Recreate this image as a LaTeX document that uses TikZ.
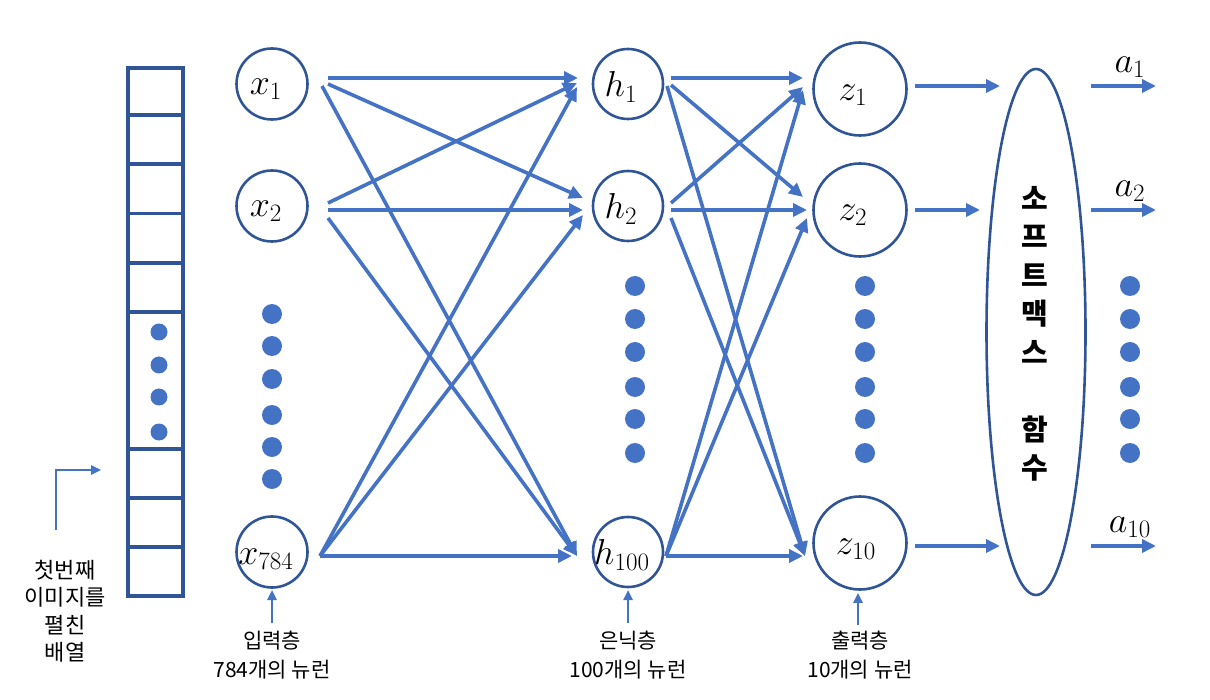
\documentclass[tikz,border=0pt]{standalone}
\usepackage{fontspec}
\newfontfamily\kr{Noto Sans CJK KR}
\usetikzlibrary{arrows.meta,calc,shapes.geometric}
\definecolor{edgeblue}{HTML}{2F5597}
\definecolor{arrblue}{HTML}{4472C4}
\newcommand{\mymath}[1]{\scalebox{1.45}{$#1$}}
\tikzset{
  neuron/.style={circle,draw=edgeblue,line width=2.6pt,inner sep=0pt},
  dotnode/.style={circle,fill=arrblue,inner sep=0pt,minimum size=20pt},
  smalldot/.style={circle,fill=arrblue,inner sep=0pt,minimum size=17pt},
  conn/.style={draw=arrblue,line width=3.6pt,-{Triangle[length=14pt,width=13pt]}},
  thinconn/.style={draw=arrblue,line width=2.4pt,-{Triangle[length=10pt,width=9pt]}},
  mathtxt/.style={inner sep=0pt,font=\fontsize{24}{28}\selectfont},
  krlabel/.style={align=center,inner sep=0pt,font=\kr\fontsize{21}{29.5}\selectfont},
  cellline/.style={draw=edgeblue,line width=3.2pt},
}
\begin{document}
\begin{tikzpicture}[x=1pt,y=-1pt]
\useasboundingbox (0,0) rectangle (1210,700);

% flattened array
\node[draw=edgeblue,line width=3.2pt,minimum width=55pt,minimum height=528pt,inner sep=0pt] (arr) at (155.5,332) {};
\foreach \yy in {115,164,213.5,263,312,449,498,547}{
  \draw[cellline] (arr.west |- 0,\yy) -- (arr.east |- 0,\yy);
}
\foreach \yy/\nm in {332/a1,365/a2,397/a3,432/a4}{
  \node[smalldot] (ad\nm) at (159,\yy) {};
}

% input layer
\node[neuron,minimum size=71pt] (x1) at (272,84) {};
\node[neuron,minimum size=71pt] (x2) at (272,206) {};
\node[neuron,minimum size=71pt] (x784) at (272,552) {};
\node[mathtxt] (tx1) at (266,89) {\mymath{x_1}};
\node[mathtxt] (tx2) at (266,211) {\mymath{x_2}};
\node[mathtxt] (tx784) at (266,559) {\mymath{x_{784}}};
\foreach \yy/\nm in {314/1,346/2,379/3,415/4,447/5,479/6}{
  \node[dotnode] (xd\nm) at (272,\yy) {};
}

% hidden layer
\node[neuron,minimum size=70pt] (h1) at (628,84) {};
\node[neuron,minimum size=70pt] (h2) at (628,206) {};
\node[neuron,minimum size=70pt] (h100) at (628,552) {};
\node[mathtxt] (th1) at (621,87) {\mymath{h_1}};
\node[mathtxt] (th2) at (621,209) {\mymath{h_2}};
\node[mathtxt] (th100) at (622,555) {\mymath{h_{100}}};
\foreach \yy/\nm in {286/1,319/2,352/3,387/4,419/5,453/6}{
  \node[dotnode] (hd\nm) at (635,\yy) {};
}

% output layer
\node[neuron,minimum size=93pt] (z1) at (860,89) {};
\node[neuron,minimum size=93pt] (z2) at (860,210) {};
\node[neuron,minimum size=93pt] (z10) at (860,543) {};
\node[mathtxt] (tz1) at (853,95) {\mymath{z_1}};
\node[mathtxt] (tz2) at (853,215) {\mymath{z_2}};
\node[mathtxt] (tz10) at (856,549) {\mymath{z_{10}}};
\foreach \yy/\nm in {286/1,319/2,352/3,387/4,419/5,453/6}{
  \node[dotnode] (zd\nm) at (865,\yy) {};
}

% softmax
\node[ellipse,draw=edgeblue,line width=2.6pt,minimum width=99pt,minimum height=526pt,inner sep=0pt] (sm) at (1036,332) {};
\node[align=center,inner sep=0pt,font=\kr\bfseries\fontsize{29}{38.5}\selectfont] (smtxt) at (1035,334) {소\\프\\트\\맥\\스\\[38.5pt]함\\수};

% softmax outputs
\coordinate (a1s) at (1091,86);  \coordinate (a1e) at (1156,86);
\coordinate (a2s) at (1091,210); \coordinate (a2e) at (1156,210);
\coordinate (a10s) at (1091,546); \coordinate (a10e) at (1156,546);
\draw[conn] (a1s) -- (a1e);
\draw[conn] (a2s) -- (a2e);
\draw[conn] (a10s) -- (a10e);
\node[mathtxt] (ta1) at (1130,67) {\mymath{a_1}};
\node[mathtxt] (ta2) at (1130,191) {\mymath{a_2}};
\node[mathtxt] (ta10) at (1130,527) {\mymath{a_{10}}};
\foreach \yy/\nm in {286/1,319/2,352/3,387/4,419/5,453/6}{
  \node[dotnode] (od\nm) at (1130,\yy) {};
}

% input -> hidden
\draw[conn] ($(x1)+(56,-6)$) -- ($(h1)+(-50,-6)$);
\draw[conn] ($(x1)+(56,0)$) -- ($(h2)+(-45,-8)$);
\draw[conn] ($(x1)+(50,2)$) -- ($(h100)+(-51,4)$);
\draw[conn] ($(x2)+(56,-3)$) -- ($(h1)+(-51,-1)$);
\draw[conn] ($(x2)+(56,4)$) -- ($(h2)+(-45,4)$);
\draw[conn] ($(x2)+(56,12)$) -- ($(h100)+(-51,4)$);
\draw[conn] ($(x784)+(48,4)$) -- ($(h1)+(-51,3)$);
\draw[conn] ($(x784)+(48,4)$) -- ($(h2)+(-45,9)$);
\draw[conn] ($(x784)+(48,4)$) -- ($(h100)+(-56,4)$);

% hidden -> output
\draw[conn] ($(h1)+(43,-6)$) -- ($(z1)+(-57,-11)$);
\draw[conn] ($(h1)+(43,1)$) -- ($(z2)+(-57,-13)$);
\draw[conn] ($(h1)+(39,2)$) -- ($(z10)+(-55,13)$);
\draw[conn] ($(h2)+(43,-3)$) -- ($(z1)+(-57,-2)$);
\draw[conn] ($(h2)+(43,4)$) -- ($(z2)+(-53,0)$);
\draw[conn] ($(h2)+(43,12)$) -- ($(z10)+(-55,13)$);
\draw[conn] ($(h100)+(38,4)$) -- ($(z1)+(-57,1)$);
\draw[conn] ($(h100)+(38,4)$) -- ($(z2)+(-53,8)$);
\draw[conn] ($(h100)+(38,4)$) -- ($(z10)+(-57,13)$);

% output -> softmax
\draw[conn] ($(z1)+(55,-3)$) -- ($(sm.center)+(-36,-246)$);
\draw[conn] ($(z2)+(55,0)$) -- ($(sm.center)+(-56,-122)$);
\draw[conn] ($(z10)+(55,3)$) -- ($(sm.center)+(-36,214)$);

% labels below
\node[krlabel] (lin) at (272,655) {입력층\\784개의 뉴런};
\node[krlabel] (lhid) at (628,655) {은닉층\\100개의 뉴런};
\node[krlabel] (lout) at (860,655) {출력층\\10개의 뉴런};
\draw[thinconn] (lin.north |- 0,623) -- (x784.south |- 0,590);
\draw[thinconn] (lhid.north |- 0,623) -- (h100.south |- 0,590);
\draw[thinconn] ($(z10.south)+(-2,34)$) -- ($(z10.south)+(-2,2)$);

\node[krlabel,font=\kr\fontsize{22}{27.5}\selectfont] (larr) at (65,611) {첫번째\\이미지를\\펼친\\배열};
\coordinate (lstart) at (56,530);
\coordinate (lcorner) at (56,470);
\coordinate (lend) at (101,470);
\draw[thinconn] (lstart) -- (lcorner) -- (lend);
\end{tikzpicture}
\end{document}
